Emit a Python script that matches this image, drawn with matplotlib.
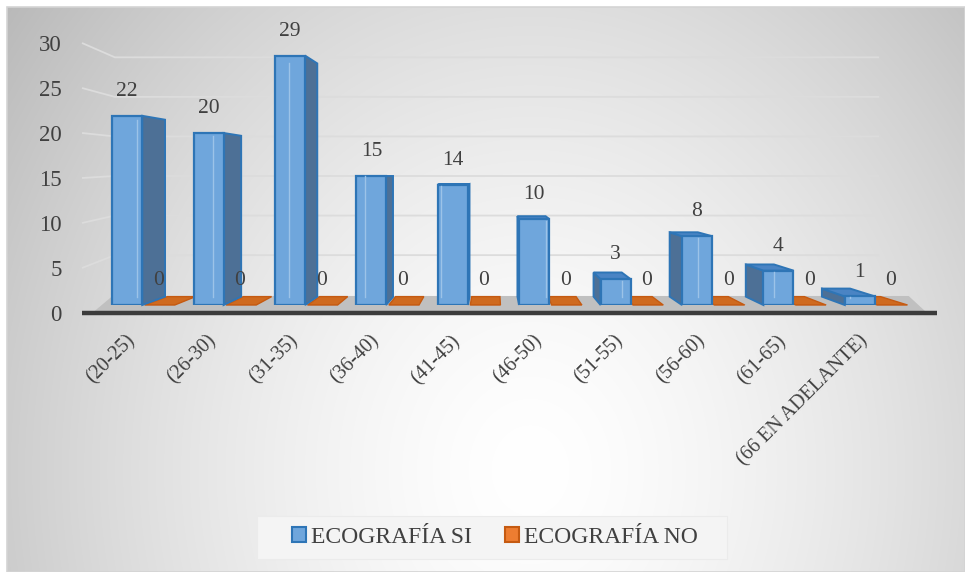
import numpy as np
import matplotlib
matplotlib.use("Agg")
import matplotlib.pyplot as plt
from matplotlib.patches import Polygon, Patch, Rectangle
from matplotlib.lines import Line2D
from matplotlib.transforms import IdentityTransform

# ---------------- data ----------------
categories = ["(20-25)", "(26-30)", "(31-35)", "(36-40)", "(41-45)",
              "(46-50)", "(51-55)", "(56-60)", "(61-65)", "(66 EN ADELANTE)"]
eco_si = [22, 20, 29, 15, 14, 10, 3, 8, 4, 1]
eco_no = [0, 0, 0, 0, 0, 0, 0, 0, 0, 0]
series_names = ["ECOGRAFÍA SI", "ECOGRAFÍA NO"]
y_ticks = [0, 5, 10, 15, 20, 25, 30]

# ---------------- style ----------------
W, H = 965, 572
DPI = 100
FONT = "Liberation Serif"
TXT = "#404040"
BLUE_FACE = "#6FA6DC"
BLUE_EDGE = "#2E75B6"
BLUE_SIDE = "#4D7096"
BLUE_TOP = "#4A84C4"
BLUE_INNER = "#9CC3E8"
OR_FACE = "#CF6A1F"
OR_EDGE = "#C55A11"
FS_Y = 16.5
FS_LBL = 15.5
FS_X = 14.5

plt.rcParams["font.family"] = [FONT, "DejaVu Sans"]

fig = plt.figure(figsize=(W / DPI, H / DPI), dpi=DPI)
fig.patch.set_facecolor("white")

# ---------------- background gradient ----------------
bg = fig.add_axes([0, 0, 1, 1], zorder=-5)
yy, xx = np.mgrid[0:H, 0:W]
cx, cy, rx, ry = 530, 470, 560, 650
r = np.sqrt(((xx - cx) / rx) ** 2 + ((yy - cy) / ry) ** 2)
val = 1 - 0.215 * np.clip(r, 0, 1.2) ** 1.5
img = np.dstack([val, val, val])
mask = (xx < 7) | (yy < 7)
img[mask] = 1.0
bg.imshow(img, extent=[0, W, H, 0], aspect="auto", interpolation="bilinear")
bg.add_patch(Rectangle((7, 7), W - 7, H - 7, fill=False, ec="#d4d4d4", lw=1.2))
# legend box
bg.add_patch(Rectangle((257, 516), 470, 43, fc="#f4f4f4", ec="#ebebeb", lw=0.8))
bg.set_xlim(0, W)
bg.set_ylim(H, 0)
bg.axis("off")

# ---------------- axes ----------------
def frac_x(px):
    return px / W

def frac_y(py_top):
    return (H - py_top) / H

# bar axes: value 0 at y=305px, value 30 at y=47px; x from 82px to 937px
ax = fig.add_axes([frac_x(82), frac_y(305), (937 - 82) / W, (305 - 47) / H])
ax.set_xlim(-0.755, 9.748)
ax.set_ylim(0, 30)
ax.patch.set_alpha(0)
for s in ax.spines.values():
    s.set_visible(False)
ax.set_yticks([])

# tick axes (front of the 3D box): 0 at 313px, 30 at 43px
tax = fig.add_axes([frac_x(80), frac_y(313), 0.001, (313 - 43) / H])
tax.set_ylim(0, 30)
tax.patch.set_alpha(0)
for s in tax.spines.values():
    s.set_visible(False)
tax.set_xticks([])
tax.set_yticks(y_ticks)
tax.set_yticklabels([str(t) for t in y_ticks], fontsize=FS_Y, color=TXT, family=FONT)
tax.tick_params(axis="y", length=0, pad=13)

# ---------------- perspective helpers ----------------
VP = np.array([493.0, H - 176.0])  # display coords (y up)
BAR_BACK = 0.935
WALL = 0.92

def P(a, x, y):
    return np.array(a.transData.transform((x, y)), dtype=float)

def proj(pt, d):
    return VP + d * (pt - VP)

def poly(pts, **kw):
    p = Polygon(np.array(pts), closed=True, transform=IdentityTransform(), **kw)
    ax.add_artist(p)
    p.set_clip_on(False)
    return p

def line(pts, **kw):
    pts = np.array(pts)
    ln = Line2D(pts[:, 0], pts[:, 1], transform=IdentityTransform(), **kw)
    ax.add_artist(ln)
    ln.set_clip_on(False)

n = len(categories)
x = np.arange(n)
w = 0.37
off = 0.2
xb = x - off
xo = x + off

x_left, x_right = ax.get_xlim()

# ---------------- back wall gridlines ----------------
x_wall_right = 9.45
for t in y_ticks[1:]:
    front_left = np.array([P(ax, x_left, t)[0], P(tax, 0, t)[1]])
    back_left = proj(P(ax, x_left, t), WALL)
    back_right = proj(P(ax, x_wall_right, t), WALL)
    line([front_left, back_left, back_right], color="#dcdcdc", lw=1.3,
         zorder=1, solid_capstyle="butt")

# ---------------- floor ----------------
y_front = P(tax, 0, 0)[1]
y_back = proj(P(ax, 0, 0), 0.93)[1]
floor = [(P(ax, -0.6, 0)[0], y_front + 2), (P(ax, 9.6, 0)[0], y_front + 2),
         (P(ax, 9.4, 0)[0], y_back), (P(ax, -0.38, 0)[0], y_back)]
poly(floor, fc="#c0c0c0", ec="none", zorder=2)
line([(P(ax, x_left, 0)[0], y_front), (P(ax, x_right, 0)[0], y_front)],
     color="#3c3c3c", lw=3.2, zorder=2.5, solid_capstyle="butt")

# ---------------- orange flat bars ----------------
ax.bar(xo, eco_no, width=w, color=OR_FACE, edgecolor=OR_EDGE, lw=1, zorder=3.5)
for i in range(n):
    xl, xr = xo[i] - w / 2, xo[i] + w / 2
    v = eco_no[i]
    TL, TR = P(ax, xl, v), P(ax, xr, v)
    poly([TL, TR, proj(TR, BAR_BACK), proj(TL, BAR_BACK)],
         fc=OR_FACE, ec=OR_EDGE, lw=1, zorder=3)

# ---------------- blue 3D bars ----------------
ax.bar(xb, eco_si, width=w, color=BLUE_FACE, edgecolor=BLUE_EDGE, lw=1.6, zorder=5)
for i in range(n):
    xl, xr = xb[i] - w / 2, xb[i] + w / 2
    v = eco_si[i]
    BL, BR, TL, TR = P(ax, xl, 0), P(ax, xr, 0), P(ax, xl, v), P(ax, xr, v)
    if BR[0] < VP[0]:
        poly([BR, TR, proj(TR, BAR_BACK), proj(BR, BAR_BACK)],
             fc=BLUE_SIDE, ec=BLUE_EDGE, lw=1.4, zorder=4)
        inner_b, inner_t = proj(BL, BAR_BACK), proj(TL, BAR_BACK)
    elif BL[0] > VP[0]:
        poly([BL, TL, proj(TL, BAR_BACK), proj(BL, BAR_BACK)],
             fc=BLUE_SIDE, ec=BLUE_EDGE, lw=1.4, zorder=4)
        inner_b, inner_t = proj(BR, BAR_BACK), proj(TR, BAR_BACK)
    else:
        inner_b = inner_t = None
    if TL[1] < VP[1]:
        poly([TL, TR, proj(TR, BAR_BACK), proj(TL, BAR_BACK)],
             fc=BLUE_TOP, ec=BLUE_EDGE, lw=1.4, zorder=4.5)
    if inner_b is not None:
        if inner_t[1] > TL[1]:
            inner_t = np.array([inner_t[0], TL[1] - 1.5])
        line([inner_b, inner_t], color=BLUE_INNER, lw=1.0, zorder=5.5)

# ---------------- data labels ----------------
for i in range(n):
    ax.annotate(str(eco_si[i]), (xb[i], eco_si[i]), xytext=(0, 17.5),
                textcoords="offset points", ha="center", va="center",
                fontsize=FS_LBL, color=TXT, family=FONT, zorder=7)
    ax.annotate(str(eco_no[i]), (xo[i], eco_no[i]), xytext=(-1, 17.5),
                textcoords="offset points", ha="center", va="center",
                fontsize=FS_LBL, color=TXT, family=FONT, zorder=7)

# ---------------- category labels ----------------
ax.set_xticks(xb + 0.06)
ax.set_xticklabels(categories, fontsize=FS_X, color=TXT, family=FONT)
ax.tick_params(axis="x", length=0, pad=24)
plt.setp(ax.get_xticklabels(), rotation=45, ha="right", va="center",
         rotation_mode="anchor")

# ---------------- legend ----------------
handles = [Patch(facecolor=BLUE_FACE, edgecolor=BLUE_EDGE, lw=1.5),
           Patch(facecolor="#ED7D31", edgecolor=OR_EDGE, lw=1.5)]
leg = fig.legend(handles, series_names, loc="center",
                 bbox_to_anchor=(frac_x(495), frac_y(537.5)),
                 ncol=2, fontsize=17, frameon=False,
                 handlelength=0.6, handleheight=0.6, handletextpad=0.2,
                 columnspacing=1.4, borderpad=0.45, borderaxespad=0)
for t in leg.get_texts():
    t.set_color(TXT)
    t.set_family(FONT)

fig.savefig("out.png", dpi=DPI)
